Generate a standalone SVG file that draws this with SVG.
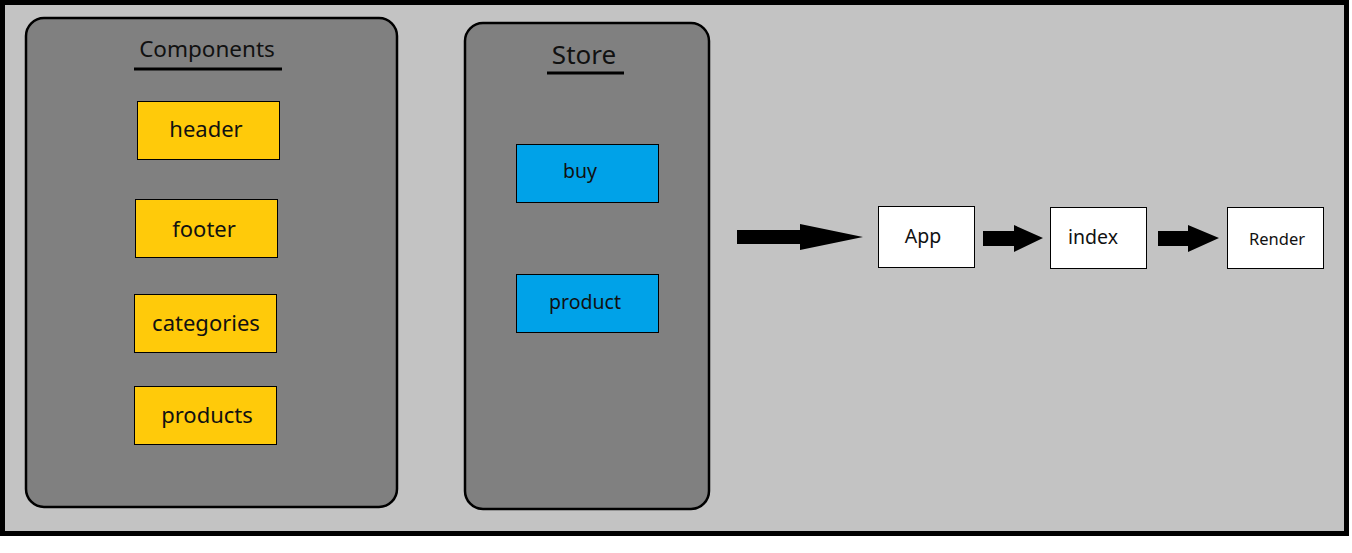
<svg xmlns="http://www.w3.org/2000/svg" width="1352" height="553" viewBox="0 0 1352 553">
<style>
text{font-family:"Noto Sans","Open Sans","DejaVu Sans",sans-serif;fill:#111;text-anchor:middle}
.panel{fill:#808080;stroke:#000;stroke-width:2.5}
.comp{fill:#ffca0a;stroke:#000;stroke-width:1}
.store{fill:#00a2e8;stroke:#000;stroke-width:1}
.box{fill:#fff;stroke:#000;stroke-width:1}
.t{font-size:22px}
.ul{stroke:#000;stroke-width:3}
</style>
<rect x="0" y="0" width="1352" height="553" fill="#fff"/>
<rect x="2.5" y="2.5" width="1344" height="531" fill="#c3c3c3" stroke="#000" stroke-width="5"/>
<g id="components">
<rect class="panel" x="26" y="18" width="371" height="489" rx="18"/>
<text x="207" y="57" style="font-size:22.5px">Components</text>
<line class="ul" x1="134" y1="69" x2="282" y2="69"/>
</g>
<g id="header"><rect class="comp" x="137.5" y="101.5" width="142" height="58"/><text class="t" x="206" y="137">header</text></g>
<g id="footer"><rect class="comp" x="135.5" y="199.5" width="142" height="58"/><text class="t" x="204" y="237">footer</text></g>
<g id="categories"><rect class="comp" x="134.5" y="294.5" width="142" height="58"/><text class="t" x="206" y="331">categories</text></g>
<g id="products"><rect class="comp" x="134.5" y="386.5" width="142" height="58"/><text class="t" x="207" y="423">products</text></g>
<g id="store">
<rect class="panel" x="465" y="23" width="244" height="486" rx="18"/>
<text x="584" y="64" style="font-size:26px">Store</text>
<line class="ul" x1="547" y1="73" x2="624" y2="73"/>
</g>
<g id="buy"><rect class="store" x="516.5" y="144.5" width="142" height="58"/><text x="580" y="178" style="font-size:19.5px">buy</text></g>
<g id="product"><rect class="store" x="516.5" y="274.5" width="142" height="58"/><text x="585" y="309" style="font-size:19.5px">product</text></g>
<g id="app"><rect class="box" x="878.5" y="206.5" width="96" height="61"/><text x="923" y="243" style="font-size:19.5px">App</text></g>
<g id="index"><rect class="box" x="1050.5" y="207.5" width="96" height="61"/><text x="1093" y="244" style="font-size:19.5px">index</text></g>
<g id="render"><rect class="box" x="1227.5" y="207.5" width="96" height="61"/><text x="1277" y="245" style="font-size:16.5px">Render</text></g>
<g id="connectors" fill="#000">
<polygon points="737,230 800,230 800,224 863,237 800,250 800,244 737,244"/>
<polygon points="983,231 1014,231 1014,225 1043,238 1014,252 1014,246 983,246"/>
<polygon points="1158,231 1188,231 1188,225 1219,238 1188,252 1188,246 1158,246"/>
</g>
</svg>
